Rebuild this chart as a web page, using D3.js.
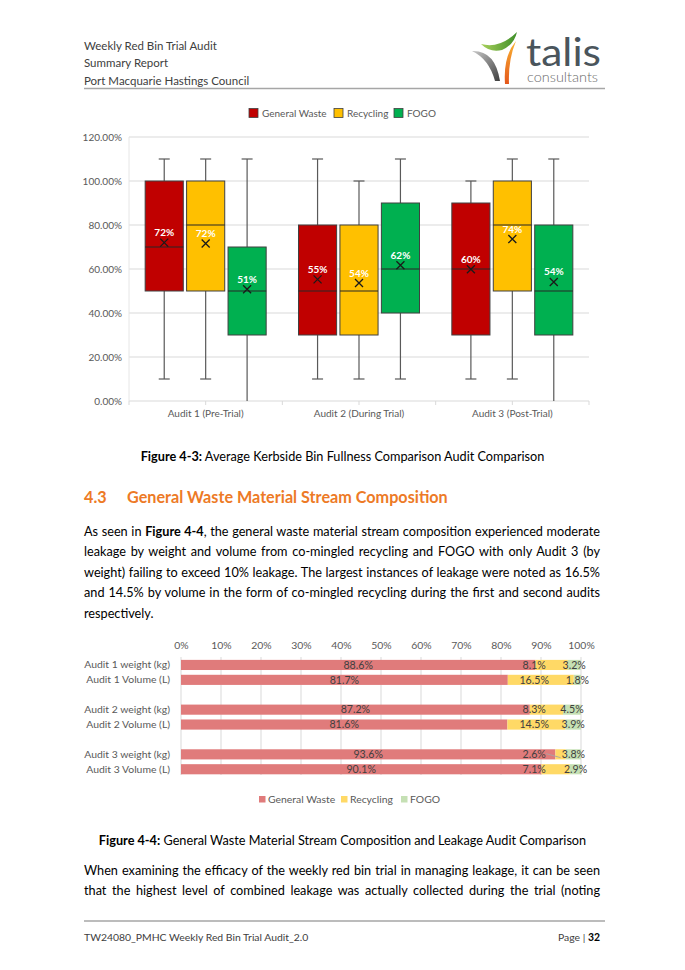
<!DOCTYPE html>
<html>
<head>
<meta charset="utf-8">
<script src="https://cdn.jsdelivr.net/npm/d3@7"></script>
<style>
  body{margin:0;background:#fff;}
  svg{display:block;font-family:Lato,'Open Sans',sans-serif;}
</style>
</head>
<body>
<div id="page"></div>
<script>
// ---- box plot data (percent of bin full) ----
var audits = ['Audit 1 (Pre-Trial)', 'Audit 2 (During Trial)', 'Audit 3 (Post-Trial)'];
var streams = ['General Waste', 'Recycling', 'FOGO'];
var whiskerLow  = [[10, 10, 0], [10, 10, 10], [10, 10, 0]];
var quartile1   = [[50, 50, 30], [30, 30, 40], [30, 50, 30]];
var medians     = [[70, 80, 50], [50, 50, 60], [60, 80, 50]];
var quartile3   = [[100, 100, 70], [80, 80, 90], [90, 100, 80]];
var whiskerHigh = [[110, 110, 110], [110, 100, 110], [100, 110, 110]];
var means       = [[72.0, 71.6, 50.8], [55.3, 53.6, 61.7], [59.9, 73.6, 54.1]];
var yTicks = [0, 20, 40, 60, 80, 100, 120];

// ---- stacked bar data (share of general waste bin) ----
var rowLabels = ['Audit 1 weight (kg)', 'Audit 1 Volume (L)', '',
                 'Audit 2 weight (kg)', 'Audit 2 Volume (L)', '',
                 'Audit 3 weight (kg)', 'Audit 3 Volume (L)'];
var gwShare   = [88.6, 81.7, null, 87.2, 81.6, null, 93.6, 90.1];
var recShare  = [8.1, 16.5, null, 8.3, 14.5, null, 2.6, 7.1];
var fogoShare = [3.2, 1.8, null, 4.5, 3.9, null, 3.8, 2.9];
var xTicks = [0, 10, 20, 30, 40, 50, 60, 70, 80, 90, 100];

var W = 685, H = 970;
var svg = d3.select('#page').append('svg').attr('width', W).attr('height', H);
svg.append('rect').attr('width', W).attr('height', H).attr('fill', '#fff');

// ---------- header ----------
var header = svg.append('g').attr('fill', '#404040').style('font-size', '11.5px');
['Weekly Red Bin Trial Audit', 'Summary Report', 'Port Macquarie Hastings Council'].forEach(function(t, i){
    header.append('text').attr('x', 84).attr('y', 49.5 + i*17.5).text(t);
});
svg.append('line').attr('x1', 84).attr('x2', 605).attr('y1', 88.5).attr('y2', 88.5)
    .attr('stroke', '#a6a6a6').attr('stroke-width', 1.6);

// logo
var defs = svg.append('defs');
function grad(id, c1, c2, x1, y1, x2, y2){
    var g = defs.append('linearGradient').attr('id', id)
        .attr('x1', x1).attr('y1', y1).attr('x2', x2).attr('y2', y2);
    g.append('stop').attr('offset', '0%').attr('stop-color', c1);
    g.append('stop').attr('offset', '100%').attr('stop-color', c2);
}
grad('gGreen', '#a8d05a', '#3f8f2a', '0%', '0%', '100%', '0%');
grad('gGray', '#c8c8c8', '#3e3e3e', '0%', '0%', '100%', '100%');
grad('gOrange', '#f9b233', '#e4571b', '0%', '0%', '0%', '100%');
var logo = svg.append('g');
logo.append('path').attr('d', 'M481,44 Q500,49 517,32 Q514,45 502,50 Q490,53 481,44 Z').attr('fill', 'url(#gGreen)');
logo.append('path').attr('d', 'M472,51 Q495,50 500,81 L495,81 Q489,59 472,51 Z').attr('fill', 'url(#gGray)');
logo.append('path').attr('d', 'M516,41 Q503,56 505,84 L509,84 Q508,60 516,41 Z').attr('fill', 'url(#gOrange)');
logo.append('text').attr('x', 526).attr('y', 66).attr('fill', '#4a555c')
    .style('font-size', '39px').attr('textLength', 75).attr('lengthAdjust', 'spacingAndGlyphs').text('talis');
logo.append('text').attr('x', 527).attr('y', 82).attr('fill', '#6b6b6b')
    .style('font-size', '13px').style('font-weight', 300)
    .attr('textLength', 71).attr('lengthAdjust', 'spacingAndGlyphs').text('consultants');

// ---------- box plot ----------
var boxColors = ['#C00000', '#FFC000', '#00B050'];
var bp = {left: 129, right: 589, top: 137, bottom: 401};
var y = d3.scaleLinear().domain([0, 120]).range([bp.bottom, bp.top]);
var x0 = d3.scaleBand().domain(audits).range([bp.left, bp.right]);
var x1 = d3.scaleBand().domain(streams).range([-60.5, 60.5]).paddingInner(0.08);

var gBox = svg.append('g');
gBox.append('g').selectAll('line').data(yTicks).enter().append('line')
    .attr('x1', bp.left).attr('x2', bp.right)
    .attr('y1', function(d){ return y(d); }).attr('y2', function(d){ return y(d); })
    .attr('stroke', '#d9d9d9').attr('stroke-width', 1);
gBox.append('line').attr('x1', bp.left).attr('x2', bp.left).attr('y1', bp.top).attr('y2', bp.bottom)
    .attr('stroke', '#e6e6e6');

var yAxis = gBox.append('g').attr('transform', 'translate(' + bp.left + ',0)')
    .call(d3.axisLeft(y).tickValues(yTicks).tickSize(0).tickPadding(7)
        .tickFormat(function(d){ return d.toFixed(2) + '%'; }));
yAxis.select('.domain').remove();
yAxis.selectAll('text').attr('fill', '#595959').style('font-size', '10px').style('font-family', 'Lato');

var xAxis = gBox.append('g').attr('transform', 'translate(0,' + bp.bottom + ')')
    .call(d3.axisBottom(x0).tickSize(0).tickPadding(9));
xAxis.select('.domain').remove();
xAxis.selectAll('text').attr('fill', '#595959').style('font-size', '10px').style('font-family', 'Lato');
// small tick marks on the category axis
gBox.append('g').selectAll('line').data(d3.range(7)).enter().append('line')
    .attr('x1', function(k){ return bp.left + k*x0.bandwidth()/2; })
    .attr('x2', function(k){ return bp.left + k*x0.bandwidth()/2; })
    .attr('y1', bp.bottom).attr('y2', bp.bottom + 4).attr('stroke', '#d9d9d9');

var boxes = [];
audits.forEach(function(a, i){
    streams.forEach(function(s, j){
        boxes.push({audit: a, stream: s, j: j, lo: whiskerLow[i][j], q1: quartile1[i][j],
            med: medians[i][j], q3: quartile3[i][j], hi: whiskerHigh[i][j], mean: means[i][j]});
    });
});
var bw = x1.bandwidth();
var bg = gBox.selectAll('g.box').data(boxes).enter().append('g').attr('class', 'box')
    .attr('transform', function(d){ return 'translate(' + (x0(d.audit) + x0.bandwidth()/2 + x1(d.stream) + bw/2) + ',0)'; });
bg.append('line').attr('x1', 0).attr('x2', 0)
    .attr('y1', function(d){ return y(d.hi); }).attr('y2', function(d){ return y(d.q3); })
    .attr('stroke', '#595959').attr('stroke-width', 1.2);
bg.append('line').attr('x1', 0).attr('x2', 0)
    .attr('y1', function(d){ return y(d.q1); }).attr('y2', function(d){ return y(d.lo); })
    .attr('stroke', '#595959').attr('stroke-width', 1.2);
bg.append('line').attr('x1', -5.5).attr('x2', 5.5)
    .attr('y1', function(d){ return y(d.hi); }).attr('y2', function(d){ return y(d.hi); })
    .attr('stroke', '#595959').attr('stroke-width', 1.2);
bg.filter(function(d){ return d.lo > 0; }).append('line').attr('x1', -5.5).attr('x2', 5.5)
    .attr('y1', function(d){ return y(d.lo); }).attr('y2', function(d){ return y(d.lo); })
    .attr('stroke', '#595959').attr('stroke-width', 1.2);
bg.append('rect').attr('x', -bw/2).attr('width', bw)
    .attr('y', function(d){ return y(d.q3); })
    .attr('height', function(d){ return y(d.q1) - y(d.q3); })
    .attr('fill', function(d){ return boxColors[d.j]; })
    .attr('stroke', '#404040').attr('stroke-width', 1);
bg.append('line').attr('x1', -bw/2).attr('x2', bw/2)
    .attr('y1', function(d){ return y(d.med); }).attr('y2', function(d){ return y(d.med); })
    .attr('stroke', '#262626').attr('stroke-width', 1.2);
bg.append('path').attr('d', function(d){
        var c = y(d.mean);
        return 'M-4,' + (c-4) + 'L4,' + (c+4) + 'M-4,' + (c+4) + 'L4,' + (c-4);
    }).attr('stroke', '#1a1a1a').attr('stroke-width', 1.3);
bg.append('text').attr('text-anchor', 'middle')
    .attr('y', function(d){ return y(d.mean) - 6.5; })
    .attr('fill', '#fff').style('font-size', '10px').style('font-weight', 700)
    .text(function(d){ return Math.round(d.mean) + '%'; });

// legend
var leg1 = svg.append('g').style('font-size', '10px').attr('fill', '#595959');
var legX1 = [249, 334, 394];
streams.forEach(function(s, j){
    leg1.append('rect').attr('x', legX1[j]).attr('y', 108.5).attr('width', 9).attr('height', 9)
        .attr('fill', boxColors[j]).attr('stroke', '#404040').attr('stroke-width', 0.8);
    leg1.append('text').attr('x', legX1[j] + 13).attr('y', 116.5).text(s);
});

// caption + heading + paragraph
function caption(label, rest, yy){
    var t = svg.append('text').attr('x', 342.5).attr('y', yy).attr('text-anchor', 'middle')
        .attr('fill', '#000').style('font-size', '12.7px');
    t.append('tspan').style('font-weight', 700).text(label);
    t.append('tspan').text(rest);
}
caption('Figure 4-3:', ' Average Kerbside Bin Fullness Comparison Audit Comparison', 460.5);

svg.append('text').attr('x', 84).attr('y', 502.5).attr('fill', '#ED7A26')
    .style('font-size', '16.2px').style('font-weight', 700).text('4.3');
svg.append('text').attr('x', 127).attr('y', 502.5).attr('fill', '#ED7A26')
    .style('font-size', '16.2px').style('font-weight', 700).text('General Waste Material Stream Composition');

function paragraph(lines, y0, justifyLast){
    lines.forEach(function(parts, i){
        var t = svg.append('text').attr('x', 84).attr('y', y0 + i*20.5)
            .attr('fill', '#000').style('font-size', '12.7px');
        parts.forEach(function(p){
            t.append('tspan').style('font-weight', p[1] ? 700 : 400).text(p[0]);
        });
        if(i < lines.length - 1 || justifyLast){
            var len = t.node().getComputedTextLength();
            var n = (t.text().match(/ /g) || []).length;
            if(n) t.attr('word-spacing', (516 - len)/n);
        }
    });
}
paragraph([
    [['As seen in '], ['Figure 4-4', 1], [', the general waste material stream composition experienced moderate']],
    [['leakage by weight and volume from co-mingled recycling and FOGO with only Audit 3 (by']],
    [['weight) failing to exceed 10% leakage. The largest instances of leakage were noted as 16.5%']],
    [['and 14.5% by volume in the form of co-mingled recycling during the first and second audits']],
    [['respectively.']]
], 535.5, false);

// ---------- stacked bar chart ----------
var barColors = ['#E07B7B', '#FFD966', '#C5E0B4'];
var xb = d3.scaleLinear().domain([0, 100]).range([181, 581]);
var yb = d3.scaleBand().domain(d3.range(rowLabels.length)).range([657.5, 776.7])
    .paddingInner(0.32).paddingOuter(0.16);
var gBar = svg.append('g');
gBar.append('g').selectAll('line').data(xTicks).enter().append('line')
    .attr('x1', function(d){ return xb(d); }).attr('x2', function(d){ return xb(d); })
    .attr('y1', 657).attr('y2', 775).attr('stroke', '#d9d9d9');
var xbAxis = gBar.append('g').attr('transform', 'translate(0,657)')
    .call(d3.axisTop(xb).tickValues(xTicks).tickSize(0).tickPadding(8)
        .tickFormat(function(d){ return d + '%'; }));
xbAxis.select('.domain').remove();
xbAxis.selectAll('text').attr('fill', '#595959').style('font-size', '10.4px').style('font-family', 'Lato');
var ybAxis = gBar.append('g').attr('transform', 'translate(181,0)')
    .call(d3.axisLeft(yb).tickSize(0).tickPadding(11).tickFormat(function(i){ return rowLabels[i]; }));
ybAxis.select('.domain').remove();
ybAxis.selectAll('text').attr('fill', '#595959').style('font-size', '10.4px').style('font-family', 'Lato');

var table = rowLabels.map(function(l, i){
    return {row: i, gw: gwShare[i] || 0, rec: recShare[i] || 0, fogo: fogoShare[i] || 0, has: gwShare[i] != null};
}).filter(function(d){ return d.has; });
var keys = ['gw', 'rec', 'fogo'];
var series = d3.stack().keys(keys)(table);
series.forEach(function(s, k){
    gBar.append('g').selectAll('rect').data(s).enter().append('rect')
        .attr('x', function(d){ return xb(d[0]); })
        .attr('width', function(d){ return xb(d[1]) - xb(d[0]); })
        .attr('y', function(d){ return yb(d.data.row); })
        .attr('height', yb.bandwidth())
        .attr('fill', barColors[k]);
});
var recLabelAt = 88.3;
var gLab = gBar.append('g').style('font-size', '10.6px').attr('fill', '#404040').attr('text-anchor', 'middle');
series.forEach(function(s, k){
    s.forEach(function(d){
        var cx = k == 1 ? xb(recLabelAt) : xb((d[0] + d[1])/2);
        var cy = yb(d.data.row) + yb.bandwidth()/2 + 3.8;
        gLab.append('text').attr('x', cx).attr('y', cy).text(d.data[keys[k]].toFixed(1) + '%');
        if(k == 1 && d.data.rec < 5){
            gBar.append('line').attr('x1', cx + 12).attr('y1', cy - 4.5)
                .attr('x2', xb((d[0] + d[1])/2)).attr('y2', cy - 0.5)
                .attr('stroke', '#a6a6a6').attr('stroke-width', 0.9);
        }
    });
});

var leg2 = svg.append('g').style('font-size', '10.4px').attr('fill', '#595959');
var legX2 = [259, 341, 401];
streams.forEach(function(s, j){
    leg2.append('rect').attr('x', legX2[j]).attr('y', 796).attr('width', 6.5).attr('height', 6.5)
        .attr('fill', barColors[j]);
    leg2.append('text').attr('x', legX2[j] + 9).attr('y', 802.5).text(s);
});

caption('Figure 4-4:', ' General Waste Material Stream Composition and Leakage Audit Comparison', 844.5);

paragraph([
    [['When examining the efficacy of the weekly red bin trial in managing leakage, it can be seen']],
    [['that the highest level of combined leakage was actually collected during the trial (noting']]
], 874.5, true);

// ---------- footer ----------
svg.append('line').attr('x1', 84).attr('x2', 605).attr('y1', 921).attr('y2', 921)
    .attr('stroke', '#a6a6a6').attr('stroke-width', 1.6);
svg.append('text').attr('x', 84).attr('y', 941).attr('fill', '#404040').style('font-size', '10.4px')
    .text('TW24080_PMHC Weekly Red Bin Trial Audit_2.0');
var pg = svg.append('text').attr('x', 600).attr('y', 941).attr('text-anchor', 'end')
    .attr('fill', '#404040').style('font-size', '10.4px');
pg.append('tspan').text('Page | ');
pg.append('tspan').style('font-weight', 700).attr('fill', '#000').text('32');
</script>
</body>
</html>
